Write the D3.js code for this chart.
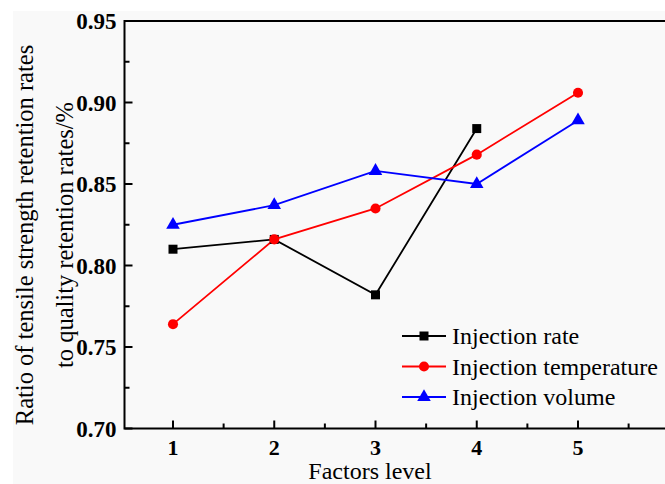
<!DOCTYPE html>
<html><head><meta charset="utf-8">
<script src="https://cdn.jsdelivr.net/npm/d3@7"></script>
<style>html,body{margin:0;padding:0;background:#fff;overflow:hidden}
text{font-family:"Liberation Serif","Times New Roman",Times,serif}</style>
</head><body>
<svg id="c" width="665" height="484"></svg>
<script>
const levels = [1, 2, 3, 4, 5];
const rateValues = [0.810, 0.816, 0.782, 0.884];
const tempValues = [0.764, 0.816, 0.835, 0.868, 0.906];
const volumeValues = [0.825, 0.837, 0.858, 0.850, 0.889];
const seriesNames = ["Injection rate", "Injection temperature", "Injection volume"];
const yTicks = [0.70, 0.75, 0.80, 0.85, 0.90, 0.95];
const xTitle = "Factors level";
const yTitle = ["Ratio of tensile strength retention rates", "to quality retention rates/%"];

const svg = d3.select("#c");
svg.append("rect").attr("x", 13).attr("y", 11).attr("width", 652).attr("height", 473).attr("fill", "#f9f9f9");

const pLeft = 124.5, pTop = 21, pBottom = 428.5, pRight = 690;
const x = d3.scaleLinear().domain([1, 5]).range([173, 578]);
const y = d3.scaleLinear().domain([0.70, 0.95]).range([pBottom, pTop]);

const g = svg.append("g");
g.append("rect").attr("x", pLeft).attr("y", pTop).attr("width", pRight - pLeft).attr("height", pBottom - pTop)
  .attr("fill", "none").attr("stroke", "#000").attr("stroke-width", 2);

const yMinor = d3.range(0.725, 0.95, 0.05);
g.selectAll(".ymaj").data(yTicks).join("line")
  .attr("x1", pLeft).attr("x2", pLeft + 8).attr("y1", d => y(d)).attr("y2", d => y(d))
  .attr("stroke", "#000").attr("stroke-width", 2);
g.selectAll(".ymin").data(yMinor).join("line")
  .attr("x1", pLeft).attr("x2", pLeft + 5).attr("y1", d => y(d)).attr("y2", d => y(d))
  .attr("stroke", "#000").attr("stroke-width", 2);
g.selectAll(".ylab").data(yTicks).join("text")
  .attr("x", pLeft - 8).attr("y", d => y(d)).attr("dy", "0.35em")
  .attr("text-anchor", "end").attr("font-weight", "bold").attr("font-size", 23)
  .text(d => d.toFixed(2));

const xMinor = d3.range(1.5, 6, 1);
g.selectAll(".xmaj").data(levels).join("line")
  .attr("x1", d => x(d)).attr("x2", d => x(d)).attr("y1", pBottom).attr("y2", pBottom - 8)
  .attr("stroke", "#000").attr("stroke-width", 2);
g.selectAll(".xmin").data(xMinor).join("line")
  .attr("x1", d => x(d)).attr("x2", d => x(d)).attr("y1", pBottom).attr("y2", pBottom - 5)
  .attr("stroke", "#000").attr("stroke-width", 2);
g.selectAll(".xlab").data(levels).join("text")
  .attr("x", d => x(d)).attr("y", pBottom + 26)
  .attr("text-anchor", "middle").attr("font-weight", "bold").attr("font-size", 22)
  .text(d => d);

svg.append("text").attr("x", 370).attr("y", 479).attr("text-anchor", "middle")
  .attr("font-size", 24).text(xTitle);
yTitle.forEach((t, i) => {
  svg.append("text").attr("transform", `translate(${33 + i * 40},235) rotate(-90)`)
    .attr("text-anchor", "middle").attr("font-size", 24.5).text(t);
});

const series = [
  {name: seriesNames[0], values: rateValues, color: "#000000", shape: d3.symbolSquare, size: 81},
  {name: seriesNames[1], values: tempValues, color: "#ff0000", shape: d3.symbolCircle, size: 80},
  {name: seriesNames[2], values: volumeValues, color: "#0000ff", shape: d3.symbolTriangle, size: 80}
];
const line = d3.line().x((d, i) => x(levels[i])).y(d => y(d));
series.forEach(s => {
  g.append("path").attr("d", line(s.values)).attr("fill", "none").attr("stroke", s.color).attr("stroke-width", 1.8);
});
series.forEach(s => {
  g.selectAll(null).data(s.values).join("path")
    .attr("transform", (d, i) => `translate(${x(levels[i])},${y(d)})`)
    .attr("d", d3.symbol().type(s.shape).size(s.size)).attr("fill", s.color);
});

const lg = svg.append("g");
series.forEach((s, i) => {
  const ly = 336 + i * 30.5;
  lg.append("line").attr("x1", 402).attr("x2", 446).attr("y1", ly).attr("y2", ly).attr("stroke", s.color).attr("stroke-width", 1.8);
  lg.append("path").attr("transform", `translate(424,${ly})`).attr("d", d3.symbol().type(s.shape).size(s.size)).attr("fill", s.color);
  lg.append("text").attr("x", 452).attr("y", ly).attr("dy", "0.35em").attr("font-size", 24).text(s.name);
});
</script>
</body></html>
